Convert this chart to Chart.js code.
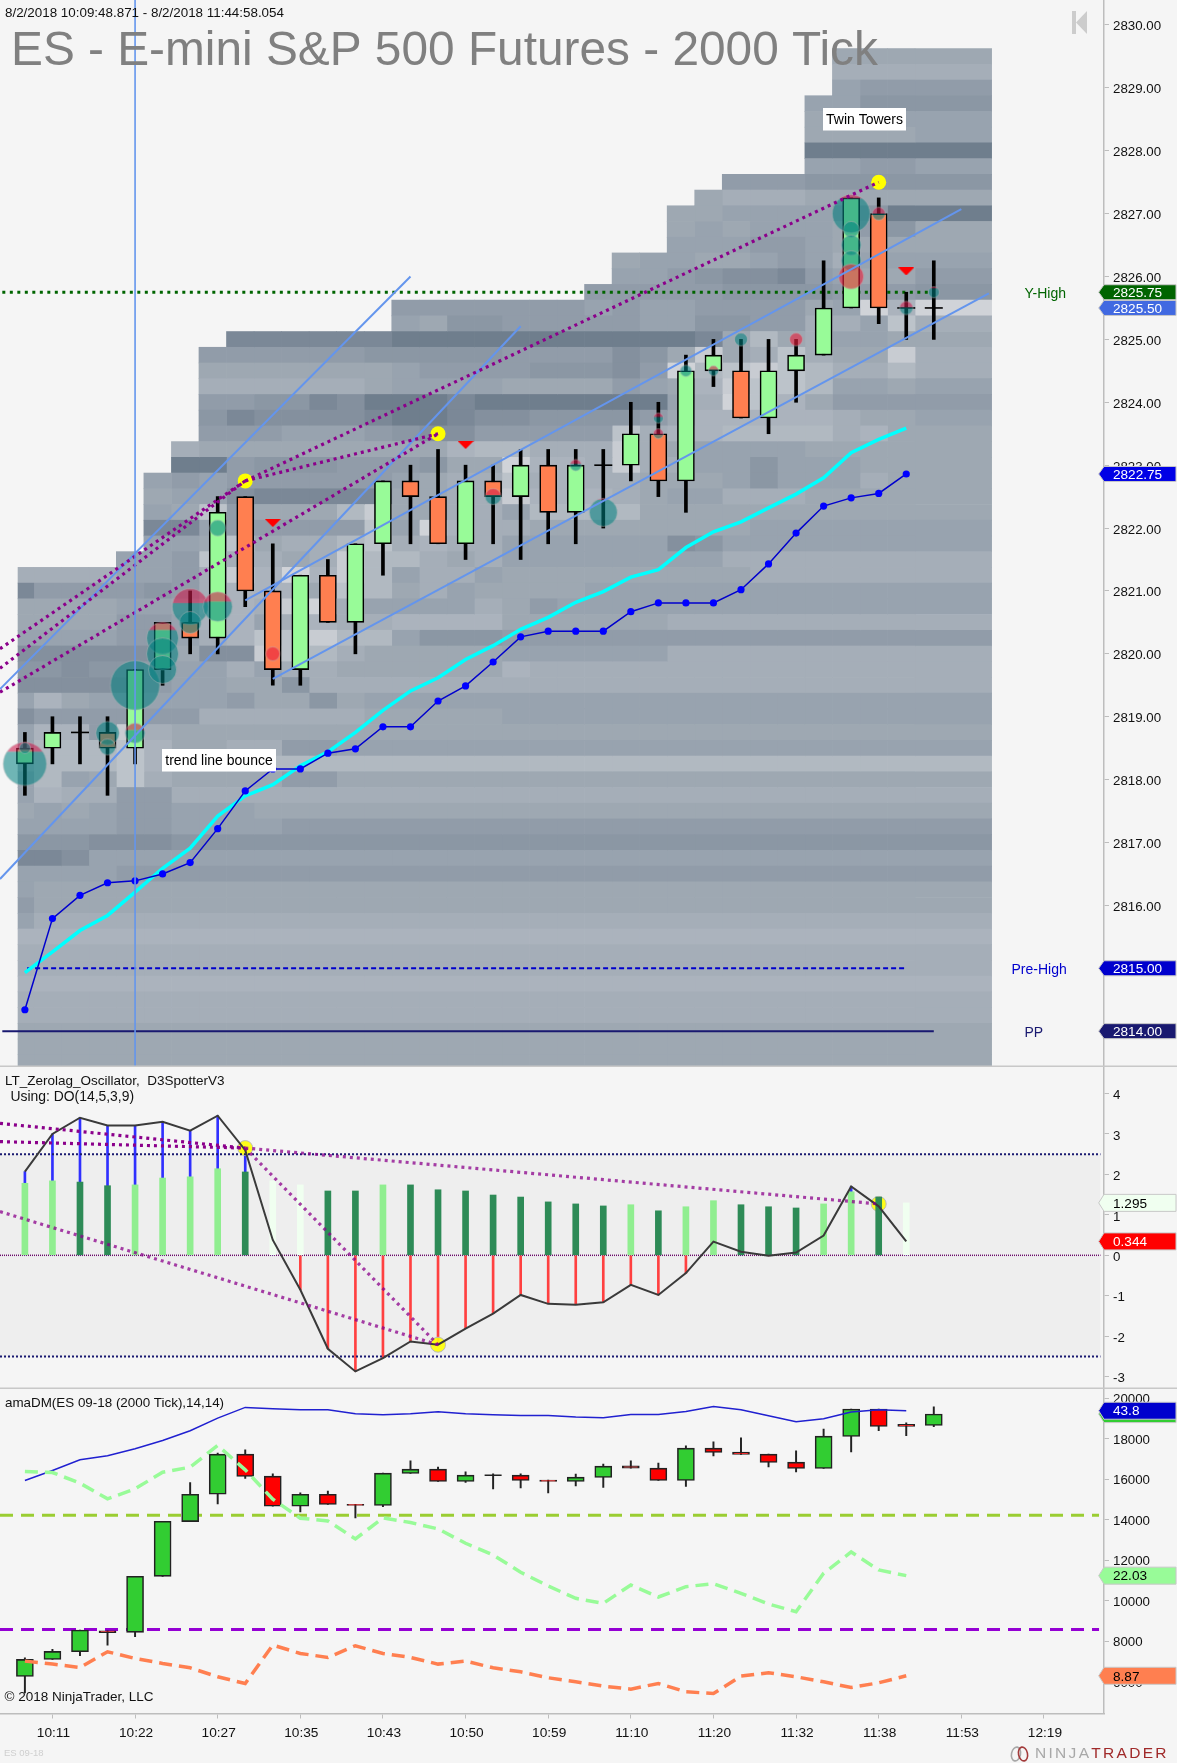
<!DOCTYPE html>
<html><head><meta charset="utf-8">
<style>
html,body{margin:0;padding:0;background:#f5f5f5;width:1177px;height:1763px;overflow:hidden}
canvas{position:absolute;left:0}
#c1{top:0}#c2{top:1067px}#c3{top:1389px}
</style>
<script src="https://cdn.jsdelivr.net/npm/chart.js@4/dist/chart.umd.js"></script>
</head><body>
<canvas id="c1" width="1177" height="1067"></canvas>
<canvas id="c2" width="1177" height="322"></canvas>
<canvas id="c3" width="1177" height="374"></canvas>
<script>
// ---------- categories ----------
const barCount = 34;
const xTickBars = [1,4,7,10,13,16,19,22,25,28,31,34,37];
const xTickLabels = ['10:11','10:22','10:27','10:35','10:43','10:50','10:59','11:10','11:20','11:32','11:38','11:53','12:19'];
const priceTicks = [2830,2829,2828,2827,2826,2825,2824,2823,2822,2821,2820,2819,2818,2817,2816,2815,2814];
const oscTicks = [4,3,2,1,0,-1,-2,-3];
const dmTicks = [20000,18000,16000,14000,12000,10000,8000,6000];

// ---------- price candles ----------
const priceOpen  = [2818.25,2818.5,2818.75,2818.75,2818.5,2819.75,2820.5,2820.25,2822.5,2821,2819.75,2821.25,2820.5,2821.75,2822.75,2822.5,2821.75,2822.75,2822.5,2823,2822.25,2823,2823,2823.5,2822.75,2824.5,2824.5,2823.75,2824.5,2824.75,2825.5,2827,2825.5,2825.5];
const priceClose = [2818.5,2818.75,2818.75,2818.5,2819.75,2820.5,2820.25,2822.25,2821,2819.75,2821.25,2820.5,2821.75,2822.75,2822.5,2821.75,2822.75,2822.5,2823,2822.25,2823,2823,2823.5,2822.75,2824.5,2824.75,2823.75,2824.5,2824.75,2825.5,2827.25,2825.5,2825.5,2825.5];
const priceHigh  = [2818.75,2819,2819,2819,2819.75,2820.5,2821,2822.5,2822.5,2821.75,2821.25,2821.5,2821.75,2822.75,2823,2823.25,2823,2823,2823.25,2823.25,2823.25,2823.25,2824,2824,2824.75,2825,2825,2825,2825,2826.25,2827.25,2827.25,2825.75,2826.25];
const priceLow   = [2817.75,2818.25,2818.25,2817.75,2818.25,2819.5,2820,2820,2820.75,2819.5,2819.5,2820.5,2820,2821.25,2821.75,2821.75,2821.5,2821.75,2821.5,2821.75,2821.75,2822,2822.75,2822.5,2822.25,2824.25,2823.75,2823.5,2824,2824.75,2825.5,2825.25,2825,2825];

// ---------- price indicator lines ----------
const cyanLine = [2814.93,2815.26,2815.6,2815.84,2816.21,2816.59,2816.91,2817.42,2817.74,2817.92,2818.22,2818.44,2818.75,2819.1,2819.41,2819.62,2819.91,2820.13,2820.39,2820.58,2820.82,2820.99,2821.22,2821.34,2821.69,2821.94,2822.1,2822.32,2822.54,2822.8,2823.2,2823.41,2823.59];
const blueLine = [2814.34,2815.79,2816.16,2816.36,2816.39,2816.5,2816.68,2817.22,2817.82,2818.17,2818.17,2818.42,2818.49,2818.84,2818.84,2819.25,2819.49,2819.87,2820.27,2820.36,2820.36,2820.36,2820.67,2820.81,2820.81,2820.81,2821.02,2821.43,2821.92,2822.35,2822.48,2822.55,2822.86];

// [bar, price] pairs of drawn lines
const trendA = [[-0.904,2819.44],[14,2826]];
const trendB = [[-0.904,2816.42],[18,2825.21]];
const trendC = [[8,2820.85],[34,2827.07]];
const trendD = [[9,2819.6],[35,2825.73]];
const divPriceA = [[-0.904,2820.08],[8,2822.75]];
const divPriceB = [[-0.904,2819.77],[8,2822.75]];
const divPriceC = [[-0.904,2819.39],[15,2823.5]];
const divPriceD = [[8,2822.75],[15,2823.5]];
const divPriceE = [[8,2822.75],[31,2827.5]];
const yellowBars = [8,15,31];
const yellowPrices = [2822.75,2823.5,2827.5];
const triangleBars = [9,16,32];
const trianglePrices = [2822.08,2823.32,2826.08];
const cursorBar = 4;
const yHigh = 2825.75, preHigh = 2815, pivotPP = 2814;

// volume bubbles: bar, price, radius, share of the disc that is on the red side
const bubbleBars   = [0,0,3,3,4,4,5,5,5,6,6,7,7,9,17,20,21,23,23,24,25,26,28,30,30,30,30,30,31,32,33];
const bubblePrices = [2818.25,2818.5,2818.74,2818.52,2819.5,2818.74,2820.25,2820,2819.75,2820.75,2820.5,2820.75,2822,2820,2822.5,2823,2822.25,2823.75,2823.5,2824.5,2824.5,2825,2825,2827,2826.75,2826.5,2826.25,2826,2827,2825.5,2825.75];
const bubbleSizes  = [21.7,5.5,11.7,8,24.7,10,16,16,14,18,11,14.7,8,7,8,5.7,14,5,5,5.7,5,6.5,6.5,19,8,10,10,12.5,6.5,6.7,5.5];
const bubbleReds   = [0.22,0,0,0,0,0.35,0.25,0,0,0.4,0,0.33,0,1,0.4,0.4,0.05,0.4,0.6,0,0.4,0,1,0.1,0,0,0,1,0.5,0.45,0.15];

// ---------- volume-profile cells: one string per price row, shade letters run-length coded ----------
const heatTopPrice = 2829.5;
const heatRows = [
"30:g4","30:h4","30:fe3","29:ffd3","29:ggf3","29:g4f","29:a5","29:ffeef","26:e3d5","25:gh3g5",
"24:ggf4edaa","24:gfgf3gedg","24:f3eefg4","22:gffggfefhf3","22:ffedccbefgge","21:e5d4e3d",
"14:e7feffe4gfmim","14:fgddeeeeeffddeehhfkh","8:b6a11bgjghffgg","7:e6d5e4cdglghkhgglh",
"7:g7fe4d3cemjklkjhhjh","7:h6gf4g4efgilkkjffgf","7:eeddbca3ba7fhmkige4","7:dbc4baabccd4egi5hggf",
"7:e3f3edcce5khiij4higg","6:hg9ijjh3lhgf4g5","6:aaed3e3dggmiihlhhffdf3g3","5:fefee5fghhkhihhg3fdf3hgg",
"5:gffcb5gghhli3hgffh3g5","5:fgkeg3jlgghhfj4g11","5:bbfee4kfmihhg8f7","5:ffgkghhjkhihhf6cdf8",
"4:ffekhhghljjhghf8h8","0:h4ffehlimiljfhhfg9h7","0:be3edehi3gkjghfgg3f13","0:g4ffgjihlmhf4hgef14",
"0:g4eefiifhihhi4g6h10","0:f4eefhikkljjfd3e16","0:c6gcclkjhg5f6h10","0:ddcddeffhfhhg6ih15",
"0:c5effggdh23","0:figf5eggdgf21","0:ce6h6g5f16","0:fiielhg28","0:fj3kigghheef22","0:hj3kij28",
"0:fjfgkhg4eeg22","0:fihheeh28","0:gfgfeef3g25","0:f4eef4e24","0:d3c3d28","0:bbcf31","0:f4e30",
"0:fg33","0:eg33","0:fh33","0:i34","0:h34","0:h34","0:i34","0:h34","0:h34","0:g34","0:g34","0:g34"];
const heatShades = {a:'#6f7e8d',b:'#7b8897',c:'#84909e',d:'#8b97a4',e:'#919ca9',f:'#98a3af',g:'#9ea8b2',h:'#a5aeb8',i:'#abb3bd',j:'#b1b9c1',k:'#bcc3ca',l:'#c8ccd2',m:'#d0d3d8'};

// ---------- oscillator ----------
const oscHist = [1.78,1.84,1.81,1.72,1.74,1.91,1.94,2.14,2.06,1.84,1.74,1.59,1.59,1.74,1.74,1.62,1.59,1.49,1.44,1.32,1.27,1.22,1.25,1.10,1.20,1.35,1.25,1.20,1.17,1.27,1.57,1.44,1.295];
const oscHistKind = "LLDDLLLLDWWDDLDDDDDDDDLDLLDDDLLDW";
const oscLine = [2.07,3.00,3.40,3.21,3.21,3.30,3.08,3.45,2.60,0.38,-0.85,-2.31,-2.87,-2.54,-2.13,-2.21,-1.81,-1.44,-0.98,-1.20,-1.22,-1.16,-0.73,-0.98,-0.44,0.34,0.09,-0.01,0.07,0.49,1.70,1.21,0.344];
const oscBandHigh = 2.5, oscBandLow = -2.5;
const oscDivA = [[-0.904,3.26],[8,2.65]];
const oscDivB = [[-0.904,2.81],[8,2.65]];
const oscDivC = [[8,2.65],[31,1.27]];
const oscDivD = [[-0.904,1.08],[15,-2.21]];
const oscDivE = [[8,2.65],[15,-2.21]];
const oscYellowBars = [8,15,31];
const oscYellowValues = [2.65,-2.21,1.27];

// ---------- amaDM ----------
const dmOpen  = [6261,7103,7483,8522,8440,11212,13917,15270,17250,16161,14676,15270,14775,14710,16293,16508,15897,16211,16211,15965,15897,16095,16673,16557,15947,17547,17349,17250,16854,16541,18125,19478,18720,18669];
const dmClose = [7103,7499,8555,8423,11212,13934,15270,17250,16145,14676,15270,14759,14710,16310,16508,15897,16211,16211,15947,15900,16112,16656,16557,15947,17547,17333,17234,16838,16541,18141,19478,18620,18620,19230];
const dmHigh  = [7185,7598,8555,8522,11212,13934,15848,17300,17465,16277,15336,15419,14775,16310,16920,16607,16376,16277,16277,15965,16260,16755,16920,16805,17663,17861,18059,17250,17415,18488,19478,19478,18801,19593];
const dmLow   = [5453,7103,7285,7813,8225,11212,13917,14792,16046,14676,14396,14759,14099,14660,16293,15897,15848,15534,15584,15336,15683,15600,16557,15947,15650,17168,17234,16623,16376,16541,17366,18405,18158,18603];
const dmPlus  = [15947,16442,16970,17168,17515,17927,18406,19033,19561,19495,19445,19445,19247,19198,19247,19346,19247,19198,19165,19165,19082,19049,19214,19214,19363,19610,19445,19148,18851,19000,19330,19445,19396];
const dmGreen = [16393,16343,15815,15040,15535,16360,16607,17680,16475,15023,14083,13950,13060,14099,13868,13555,12845,12268,11410,10733,10123,9875,10783,10189,10700,10849,10370,9842,9463,11360,12416,11525,11245];
const dmCoral = [7020,6872,6707,7483,7153,6905,6690,6245,5915,7813,7400,7202,7780,7400,7202,6872,7020,6690,6493,6197,5998,5783,5635,5915,5503,5420,6278,6443,6245,5998,5717,5948,6295];
const dmLevelHigh = 14231, dmLevelLow = 8588;

// ---------- value flags on the right axis ----------
const priceFlags = [['2825.75',2825.75,'#006400','#fff'],['2825.50',2825.5,'#4169e1','#fff'],['2822.75',2822.86,'#0000e6','#fff'],['2815.00',2815,'#0000cd','#fff'],['2814.00',2814,'#191970','#fff']];
const oscFlags = [['1.295',1.296,'#f0fff0','#000'],['0.344',0.344,'#ff0000','#fff']];
const dmFlags = [['',19230,'#32cd32','#000'],['43.8',19396,'#0000cd','#fff'],['22.03',11245,'#98fb98','#000'],['8.87',6295,'#ff7f50','#000']];

// ---------- shared helpers ----------
Chart.defaults.font.family = '"Liberation Sans", Arial, sans-serif';
Chart.defaults.font.size = 13.3;
Chart.defaults.color = '#111';
const X_MIN = -0.904, X_MAX = 39.18, PX_PER_BAR = 27.54, AXIS_W = 73;
const AXIS_GREY = '#bdbdbd';
const xy = (xs, ys) => ys.map((y,i)=>({x:xs?xs[i]:i,y}));
const pairs = a => a.map(p=>({x:p[0],y:p[1]}));
function lineDs(data, color, width, order, extra){
  return Object.assign({type:'line',data,borderColor:color,borderWidth:width,pointRadius:0,fill:false,tension:0,order},extra||{});
}
function wicks(high,low,color,thick,order){
  return {type:'bar',data:high.map((h,i)=>({x:i,y:[low[i],h]})),backgroundColor:color,barThickness:thick,barPercentage:1,categoryPercentage:1,grouped:false,borderWidth:0,order};
}
function bodies(open,close,up,down,border,order){
  const idx = open.map((o,i)=>i).filter(i=>open[i]!==close[i]);
  return {type:'bar',data:idx.map(i=>({x:i,y:[open[i],close[i]]})),backgroundColor:idx.map(i=>close[i]>open[i]?up:down),
    borderColor:border,borderWidth:1.6,borderSkipped:false,barThickness:17,barPercentage:1,categoryPercentage:1,grouped:false,order};
}
function yAxis(min,max,ticks,fmt){
  return {type:'linear',position:'right',min,max,
    afterBuildTicks:s=>{s.ticks=ticks.map(v=>({value:v}));},
    afterFit:s=>{s.width=AXIS_W;s.paddingTop=0;s.paddingBottom=0;s.paddingLeft=0;s.paddingRight=0;},
    border:{color:AXIS_GREY,width:1.5},
    grid:{drawOnChartArea:false,drawTicks:true,tickLength:5,color:AXIS_GREY},
    ticks:{autoSkip:false,padding:4,callback:fmt,color:'#111',font:{size:13.3}}};
}
function hiddenX(){
  return {type:'linear',min:X_MIN,max:X_MAX,offset:false,display:false,grid:{offset:false}};
}
// the platform prints its axis labels slightly below the tick mark
function labelNudge(dy){
  return {id:'labelNudge',beforeDraw(c){
    if(c.$nudged)return;c.$nudged=true;
    c.scales.y.getLabelItems().forEach(it=>{it.options.translation[1]+=dy;});
    if(c.scales.x.options.display)c.scales.x.getLabelItems().forEach(it=>{it.options.translation[0]+=1;});
  }};
}
function flagPlugin(flags,h){
  return {id:'flags',afterDraw(c){
    const g=c.ctx,s=c.scales.y;
    flags.forEach(f=>{
      const y=s.getPixelForValue(f[1]),L=1098.7,B=1104,R=1176;
      g.save();g.beginPath();g.moveTo(L,y);g.lineTo(B,y-h/2);g.lineTo(R,y-h/2);g.lineTo(R,y+h/2);g.lineTo(B,y+h/2);g.closePath();
      g.fillStyle=f[2];g.fill();g.lineWidth=1;g.strokeStyle='#c8c8c8';g.stroke();
      g.fillStyle=f[3];g.font='13.6px "Liberation Sans", Arial';g.textAlign='left';g.textBaseline='middle';
      if(f[0])g.fillText(f[0],1113,y+1);g.restore();
    });
  }};
}
function text(g,str,x,y,font,color,align){
  g.font=font;g.fillStyle=color;g.textAlign=align||'left';g.textBaseline='middle';g.fillText(str,x,y);
}
function separator(c,y,x2){
  const g=c.ctx;g.save();g.strokeStyle='#c8c8c8';g.lineWidth=1.5;g.beginPath();g.moveTo(0,y);g.lineTo(x2,y);g.stroke();g.restore();
}
const FONT='"Liberation Sans", Arial';

// ---------- build volume cells ----------
const rowsByCol = [];
for(let c=0;c<barCount;c++)rowsByCol.push([]);
heatRows.forEach((r,ri)=>{
  const price=heatTopPrice-ri*0.25, parts=r.split(':');
  let col=+parts[0];
  parts[1].replace(/([a-m])(\d*)/g,(m,l,n)=>{
    const k=n?+n:1;
    for(let j=0;j<k;j++){rowsByCol[col].push({price,shade:heatShades[l]});col++;}
    return m;
  });
});
const heatSets = rowsByCol.map((cells,c)=>{
  let left=c-0.68,right=c+0.32;
  if(c===0)left=-0.25;
  if(c===barCount-1)right=35.1;
  const center=(left+right)/2;
  return {type:'bar',data:cells.map(o=>({x:center,y:[o.price-0.125,o.price+0.125]})),backgroundColor:cells.map(o=>o.shade),
    barThickness:(right-left)*PX_PER_BAR,barPercentage:1,categoryPercentage:1,grouped:false,borderWidth:0,order:200};
});

// ---------- bubble / triangle images ----------
function bubbleImage(r,red){
  const size=Math.ceil(2*r+3),cv=document.createElement('canvas');cv.width=cv.height=size;
  const g=cv.getContext('2d'),m=size/2;
  g.save();g.beginPath();g.arc(m,m,r,0,Math.PI*2);g.clip();
  const cut=m-r+2*r*red;
  g.fillStyle=red===1?'rgba(232,32,62,0.62)':'rgba(205,25,75,0.58)';g.fillRect(0,0,size,cut);
  g.fillStyle='rgba(0,128,128,0.55)';g.fillRect(0,cut,size,size-cut);
  g.restore();
  g.beginPath();g.arc(m,m,r,0,Math.PI*2);g.lineWidth=1;g.strokeStyle='rgba(190,190,190,0.45)';g.stroke();
  return cv;
}
const bubbleImgs=bubbleSizes.map((r,i)=>bubbleImage(r,bubbleReds[i]));
const triImg=(()=>{const cv=document.createElement('canvas');cv.width=16;cv.height=8;const g=cv.getContext('2d');
  g.fillStyle='#ff0000';g.beginPath();g.moveTo(0,0);g.lineTo(16,0);g.lineTo(8,8);g.closePath();g.fill();return cv;})();

const base={animation:false,responsive:false,devicePixelRatio:1,events:[],layout:{padding:0,autoPadding:false},
  plugins:{legend:{display:false},tooltip:{enabled:false},title:{display:false}}};

// ---------- main price chart ----------
const PTOP=2830.397, PBOT=2813.43;
const dopiIdx=priceOpen.map((o,i)=>i).filter(i=>priceOpen[i]===priceClose[i]);
const purple='#8b008b', trendBlue='#6495ed';
const pDot={borderDash:[3,4]};
new Chart(document.getElementById('c1'),{type:'bar',
 data:{datasets:[
  ...heatSets,
  lineDs([{x:cursorBar,y:PTOP},{x:cursorBar,y:PBOT}],trendBlue,1.6,20),
  lineDs([{x:-0.82,y:yHigh},{x:33,y:yHigh}],'#006400',3,60,{borderDash:[3,4.5]}),
  lineDs([{x:0.08,y:preHigh},{x:32,y:preHigh}],'#0000cd',2,60,{borderDash:[5,3]}),
  lineDs([{x:-0.82,y:pivotPP},{x:33,y:pivotPP}],'#191970',2,60),
  wicks(priceHigh,priceLow,'#000',3,52),
  bodies(priceOpen,priceClose,'#98fb98','#ff7f50','#000',50),
  {type:'scatter',data:dopiIdx.map(i=>({x:i,y:priceOpen[i]})),pointStyle:'line',pointRadius:9,pointBorderColor:'#000',pointBorderWidth:1.6,showLine:false,order:49},
  {type:'bubble',data:bubbleBars.map((b,i)=>({x:b,y:bubblePrices[i],r:bubbleSizes[i]})),pointStyle:c=>bubbleImgs[c.dataIndex],backgroundColor:'rgba(0,128,128,0.5)',borderWidth:0,order:40},
  lineDs(xy(null,cyanLine),'#00ffff',3.5,35),
  lineDs(xy(null,blueLine),'#0000cd',1.5,34,{pointRadius:3.6,pointBackgroundColor:'#0000ff',pointBorderWidth:0}),
  lineDs(pairs(trendA),trendBlue,2,30),lineDs(pairs(trendB),trendBlue,2,30),lineDs(pairs(trendC),trendBlue,2,30),lineDs(pairs(trendD),trendBlue,2,30),
  {type:'scatter',data:xy(triangleBars,trianglePrices),pointStyle:triImg,pointRadius:8,showLine:false,order:29},
  {type:'scatter',data:xy(yellowBars,yellowPrices),pointStyle:'circle',pointRadius:7.5,pointBackgroundColor:'#ffff00',pointBorderWidth:0,showLine:false,order:28},
  lineDs(pairs(divPriceA),purple,3.2,25,pDot),lineDs(pairs(divPriceB),purple,3.2,25,pDot),lineDs(pairs(divPriceC),purple,3.2,25,pDot),
  lineDs(pairs(divPriceD),purple,3.2,25,pDot),lineDs(pairs(divPriceE),purple,3.2,25,pDot)
 ]},
 options:Object.assign({},base,{scales:{x:hiddenX(),y:yAxis(PBOT,PTOP,priceTicks,v=>v.toFixed(2))}}),
 plugins:[labelNudge(1.8),flagPlugin(priceFlags,15),{id:'notes',afterDraw(c){
   const g=c.ctx;g.save();
   text(g,'8/2/2018 10:09:48.871 - 8/2/2018 11:44:58.054',5,13.5,'13.4px '+FONT,'#111');
   g.textBaseline='alphabetic';g.font='47.8px '+FONT;g.fillStyle='#808080';g.textAlign='left';
   g.fillText('ES - E-mini S&P 500 Futures - 2000 Tick',11,65);
   [[823,108,83,22.5,'Twin Towers'],[162,749,114,22.5,'trend line bounce']].forEach(b=>{
     g.fillStyle='#fff';g.fillRect(b[0],b[1],b[2],b[3]);text(g,b[4],b[0]+b[2]/2,b[1]+b[3]/2+0.5,'14px '+FONT,'#000','center');
   });
   text(g,'Y-High',1024.5,294,'14px '+FONT,'#006400');
   text(g,'Pre-High',1011.5,970.5,'14px '+FONT,'#0000cd');
   text(g,'PP',1024.5,1033.5,'14px '+FONT,'#191970');
   g.fillStyle='#cccccc';g.fillRect(1072,11,4,23);g.beginPath();g.moveTo(1087,11);g.lineTo(1076,22.5);g.lineTo(1087,34);g.closePath();g.fill();
   g.restore();separator(c,1066.3,1177);
 }}]
});

// ---------- oscillator ----------
const stemSet={type:'bar',data:oscLine.map((v,i)=>({x:i,y:[0,v]})),backgroundColor:oscLine.map(v=>v>=0?'#3030ff':'#ff4040'),barThickness:2,barPercentage:1,categoryPercentage:1,grouped:false,borderWidth:0,order:60};
const histColor={L:'#90ee90',D:'#2e8b57',W:'#f0fff0'};
const purpleSoft='rgba(139,0,139,0.75)';
new Chart(document.getElementById('c2'),{type:'bar',
 data:{datasets:[
  lineDs([{x:X_MIN,y:oscBandHigh},{x:39.05,y:oscBandHigh}],'rgba(0,0,0,0)',0,100,{fill:{value:oscBandLow},backgroundColor:'#eeeeee'}),
  lineDs([{x:X_MIN,y:oscBandHigh},{x:39.05,y:oscBandHigh}],'#191970',2,55,{borderDash:[2,2]}),
  lineDs([{x:X_MIN,y:oscBandLow},{x:39.05,y:oscBandLow}],'#191970',2,55,{borderDash:[2,2]}),
  lineDs([{x:X_MIN,y:0},{x:39.05,y:0}],'#6a0a6a',1.5,90,{borderDash:[1,1]}),
  stemSet,
  {type:'scatter',data:xy(oscYellowBars,oscYellowValues),pointStyle:'circle',pointRadius:7.5,pointBackgroundColor:'rgba(255,255,0,0.9)',pointBorderColor:'#bbb',pointBorderWidth:1,showLine:false,order:56},
  {type:'bar',data:oscHist.map((v,i)=>({x:i,y:[0,v]})),backgroundColor:oscHist.map((v,i)=>histColor[oscHistKind[i]]),barThickness:6,barPercentage:1,categoryPercentage:1,grouped:false,borderWidth:0,order:50},
  lineDs(xy(null,oscLine),'#3a3a3a',2,40),
  lineDs(pairs(oscDivA),purple,3.2,30,pDot),lineDs(pairs(oscDivB),purple,3.2,30,pDot),
  lineDs(pairs(oscDivC),purpleSoft,3.2,30,pDot),lineDs(pairs(oscDivD),purpleSoft,3.2,30,pDot),lineDs(pairs(oscDivE),purpleSoft,3.2,30,pDot)
 ]},
 options:Object.assign({},base,{scales:{x:hiddenX(),y:yAxis(-3.304,4.654,oscTicks,v=>String(v))}}),
 plugins:[labelNudge(2),flagPlugin(oscFlags,17),{id:'notes2',afterDraw(c){
   const g=c.ctx;g.save();
   text(g,'LT_Zerolag_Oscillator,  D3SpotterV3',5,14,'13.5px '+FONT,'#111');
   text(g,'Using: DO(14,5,3,9)',10.5,30.5,'13.9px '+FONT,'#111');
   g.restore();separator(c,321.3,1177);
 }}]
});

// ---------- amaDM ----------
const wd=wicks(dmHigh,dmLow,'#222',1.3,52);
const bd=bodies(dmOpen,dmClose,'#32cd32','#ff0000','#222',50);
const dojiDm=[17];
new Chart(document.getElementById('c3'),{type:'bar',
 data:{datasets:[
  lineDs([{x:X_MIN,y:dmLevelHigh},{x:39,y:dmLevelHigh}],'#9acd32',3,70,{borderDash:[13,8]}),
  lineDs([{x:X_MIN,y:dmLevelLow},{x:39,y:dmLevelLow}],'#9400d3',3,70,{borderDash:[13,8]}),
  wd,bd,
  {type:'scatter',data:dojiDm.map(i=>({x:i,y:dmOpen[i]})),pointStyle:'line',pointRadius:8.5,pointBorderColor:'#222',pointBorderWidth:1.5,showLine:false,order:49},
  lineDs(xy(null,dmPlus),'#2020d0',1.5,40),
  lineDs(xy(null,dmGreen),'#98fb98',3.5,38,{borderDash:[13,7]}),
  lineDs(xy(null,dmCoral),'#ff7f50',3.5,38,{borderDash:[13,7]})
 ]},
 options:Object.assign({},base,{scales:{
   x:{type:'linear',min:X_MIN,max:X_MAX,offset:false,position:'bottom',
      afterBuildTicks:s=>{s.ticks=xTickBars.map(v=>({value:v}));},
      afterFit:s=>{s.height=49.5;s.paddingLeft=0;s.paddingRight=0;s.paddingTop=0;s.paddingBottom=0;},
      border:{color:AXIS_GREY,width:1.5},
      grid:{offset:false,drawOnChartArea:false,drawTicks:true,tickLength:5,color:AXIS_GREY},
      ticks:{autoSkip:false,maxRotation:0,padding:7,color:'#111',font:{size:13.7},
        callback:v=>{const i=xTickBars.indexOf(v);return i<0?'':xTickLabels[i];}}},
   y:yAxis(4431,20470,dmTicks,v=>String(v))}}),
 plugins:[labelNudge(1.1),flagPlugin(dmFlags,17),{id:'notes3',afterDraw(c){
   const g=c.ctx;g.save();
   text(g,'amaDM(ES 09-18 (2000 Tick),14,14)',5,14,'13.4px '+FONT,'#111');
   text(g,'\u00a9 2018 NinjaTrader, LLC',4.5,308,'13.5px '+FONT,'#111');
   text(g,'ES 09-18',4,364,'9.5px '+FONT,'#cfcfcf');
   g.lineWidth=1.6;g.strokeStyle='#a8a8a8';g.beginPath();g.ellipse(1016,365,4.5,7,0.2,0,Math.PI*2);g.stroke();
   g.strokeStyle='#a33b3b';g.beginPath();g.ellipse(1023,365,4.5,7,-0.2,0,Math.PI*2);g.stroke();
   g.letterSpacing='2.3px';
   text(g,'NINJA',1035,365,'15.5px '+FONT,'#a8a8a8');
   const w=g.measureText('NINJA').width;
   text(g,'TRADER',1035+w,365,'15.5px '+FONT,'#a02a2a');
   g.letterSpacing='0px';
   g.restore();
 }}]
});
</script>
</body></html>
